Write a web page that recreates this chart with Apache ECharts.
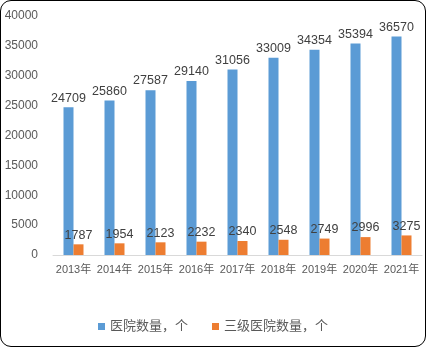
<!DOCTYPE html>
<html>
<head>
<meta charset="utf-8">
<script src="https://cdn.jsdelivr.net/npm/echarts@6/dist/echarts.min.js"></script>
<style>
html,body{margin:0;padding:0;background:#fff;}
#wrap{width:424px;height:345px;border:1px solid #000;border-radius:11px;overflow:hidden;background:#fff;}
#c{width:424px;height:345px;}
</style>
</head>
<body>
<div id="wrap"><div id="c"></div></div>
<script>
const categories = ['2013年','2014年','2015年','2016年','2017年','2018年','2019年','2020年','2021年'];
const hospitals = [24709,25860,27587,29140,31056,33009,34354,35394,36570];
const tertiary = [1787,1954,2123,2232,2340,2548,2749,2996,3275];
const seriesNames = ['医院数量，个','三级医院数量，个'];

const chart = echarts.init(document.getElementById('c'));
const font = '"Liberation Sans","Noto Sans CJK SC",sans-serif';
chart.setOption({
  animation:false,
  textStyle:{fontFamily:font},
  grid:{left:52,right:3,top:15,bottom:91},
  legend:{
    data:seriesNames,
    bottom:8,
    left:'center',
    itemWidth:7,itemHeight:7,itemGap:24,
    icon:'rect',
    textStyle:{color:'#595959',fontSize:13,fontFamily:font}
  },
  xAxis:{
    type:'category',
    data:categories,
    axisLine:{lineStyle:{color:'#d9d9d9'}},
    axisTick:{show:false},
    axisLabel:{color:'#595959',fontSize:11,margin:9,interval:0}
  },
  yAxis:{
    type:'value',min:0,max:40000,interval:5000,
    splitLine:{show:false},
    axisLine:{show:false},
    axisTick:{show:false},
    axisLabel:{color:'#595959',fontSize:12,margin:15,formatter:function(v){return String(v);}}
  },
  series:[
    {name:seriesNames[0],type:'bar',data:hospitals,barWidth:10,barGap:'0%',
     itemStyle:{color:'#5B9BD5'},
     label:{show:true,position:'top',color:'#404040',fontSize:12.5,distance:3}},
    {name:seriesNames[1],type:'bar',data:tertiary,barWidth:10,
     itemStyle:{color:'#ED7D31'},
     label:{show:true,position:'top',color:'#404040',fontSize:12.5,distance:3}}
  ]
});
</script>
</body>
</html>
